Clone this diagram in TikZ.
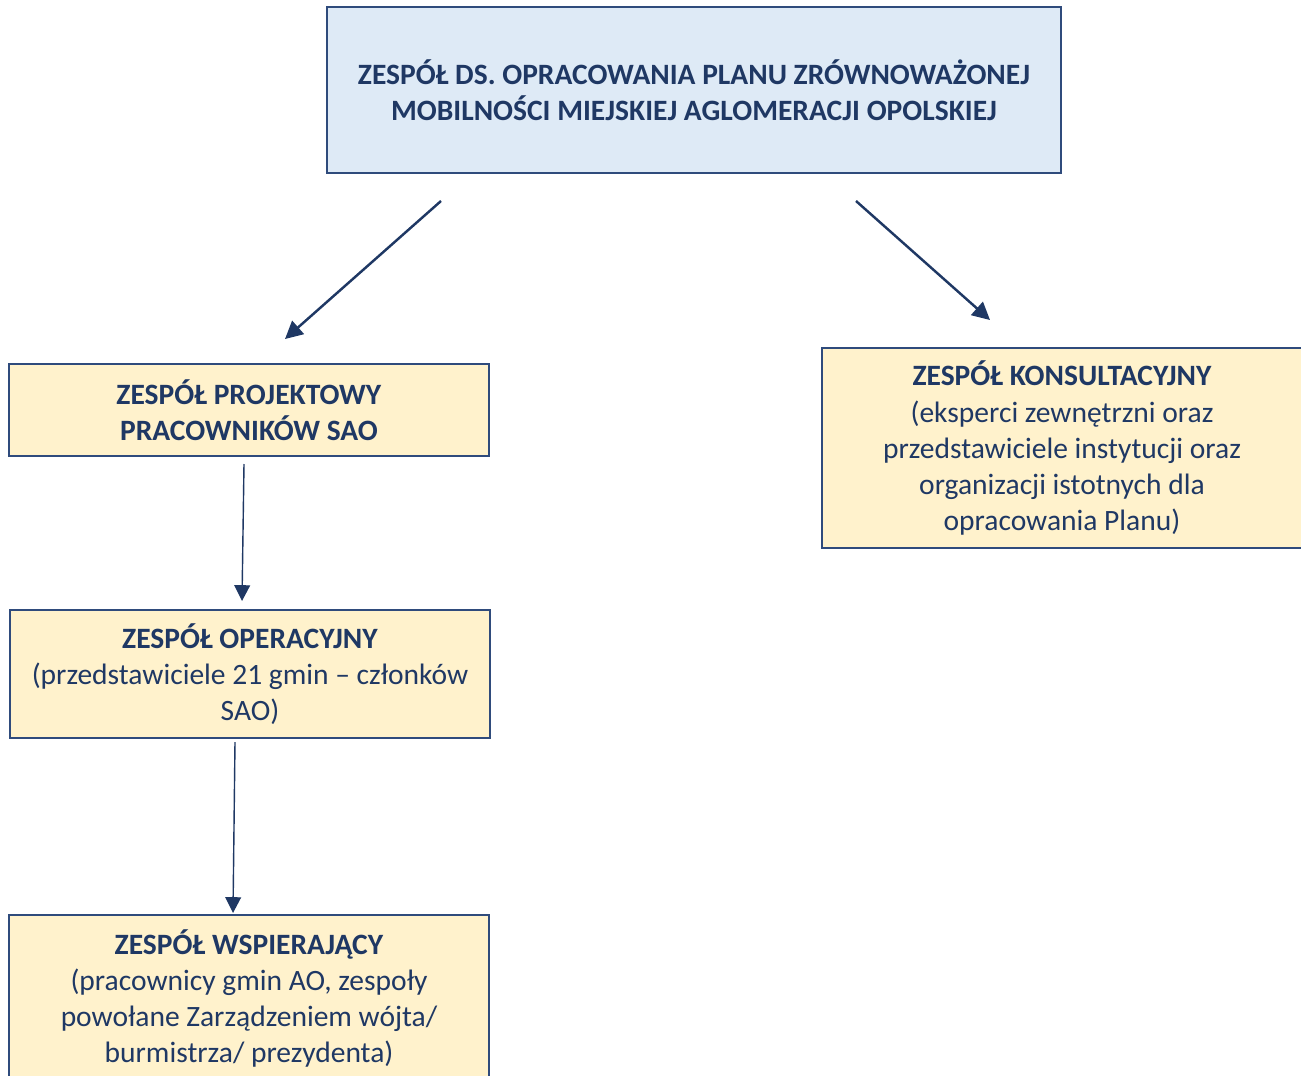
\documentclass[tikz,border=0pt]{standalone}
\usepackage{fontspec}
\setmainfont{Carlito}
\usetikzlibrary{positioning,arrows.meta}

\definecolor{navy}{HTML}{1F3864}
\definecolor{boxline}{HTML}{2F4B7C}
\definecolor{headblue}{HTML}{DEEAF6}
\definecolor{teamyellow}{HTML}{FFF2CC}

\begin{document}
\begin{tikzpicture}[
  x=0.02cm, y=-0.02cm,
  team/.style={rectangle, draw=boxline, line width=1.1pt, fill=teamyellow, align=center, text=navy, inner sep=0pt, minimum width=9.6cm, font=\fontsize{16.8}{20.5}\selectfont},
  head/.style={team, fill=headblue, minimum width=14.68cm, minimum height=3.32cm},
  arrow/.style={-{Triangle[length=10pt,width=10pt]}, navy, line width=1.4pt},
  thinarrow/.style={-{Triangle[length=9pt,width=9pt]}, navy, line width=0.8pt}
]
\useasboundingbox (0,0) rectangle (1301,1075);

% Boxes
\node[head] (plan) at (694,90) {\textbf{ZESPÓŁ DS. OPRACOWANIA PLANU ZRÓWNOWAŻONEJ}\\\textbf{MOBILNOŚCI MIEJSKIEJ AGLOMERACJI OPOLSKIEJ}};
\node[team, minimum height=1.84cm] (projekt) at (249,410) {\textbf{ZESPÓŁ PROJEKTOWY}\\\textbf{PRACOWNIKÓW SAO}};
\node[team, minimum height=2.56cm] (operacja) at (250,674) {\textbf{ZESPÓŁ OPERACYJNY}\\(przedstawiciele 21 gmin -- członków\\SAO)};
\node[team, minimum height=3.34cm, anchor=north] (wsparcie) at (249,914) {\textbf{ZESPÓŁ WSPIERAJĄCY}\\(pracownicy gmin AO, zespoły\\powołane Zarządzeniem wójta/\\burmistrza/ prezydenta)};
\node[team, minimum height=4cm] (konsult) at (1062,448) {\textbf{ZESPÓŁ KONSULTACYJNY}\\(eksperci zewnętrzni oraz\\przedstawiciele instytucji oraz\\organizacji istotnych dla\\opracowania Planu)};

% Arrow ends
\coordinate (planL) at (441,201);
\coordinate (planR) at (856,201);
\coordinate (projektIn) at (285,339);
\coordinate (konsultIn) at (990,320);
\coordinate (projektOut) at (244,464);
\coordinate (operacjaIn) at (242,601);
\coordinate (operacjaOut) at (235,742);
\coordinate (wsparcieIn) at (233,913);

% Connectors
\draw[arrow] (planL) -- (projektIn);
\draw[arrow] (planR) -- (konsultIn);
\draw[thinarrow] (projektOut) -- (operacjaIn);
\draw[thinarrow] (operacjaOut) -- (wsparcieIn);
\end{tikzpicture}
\end{document}
